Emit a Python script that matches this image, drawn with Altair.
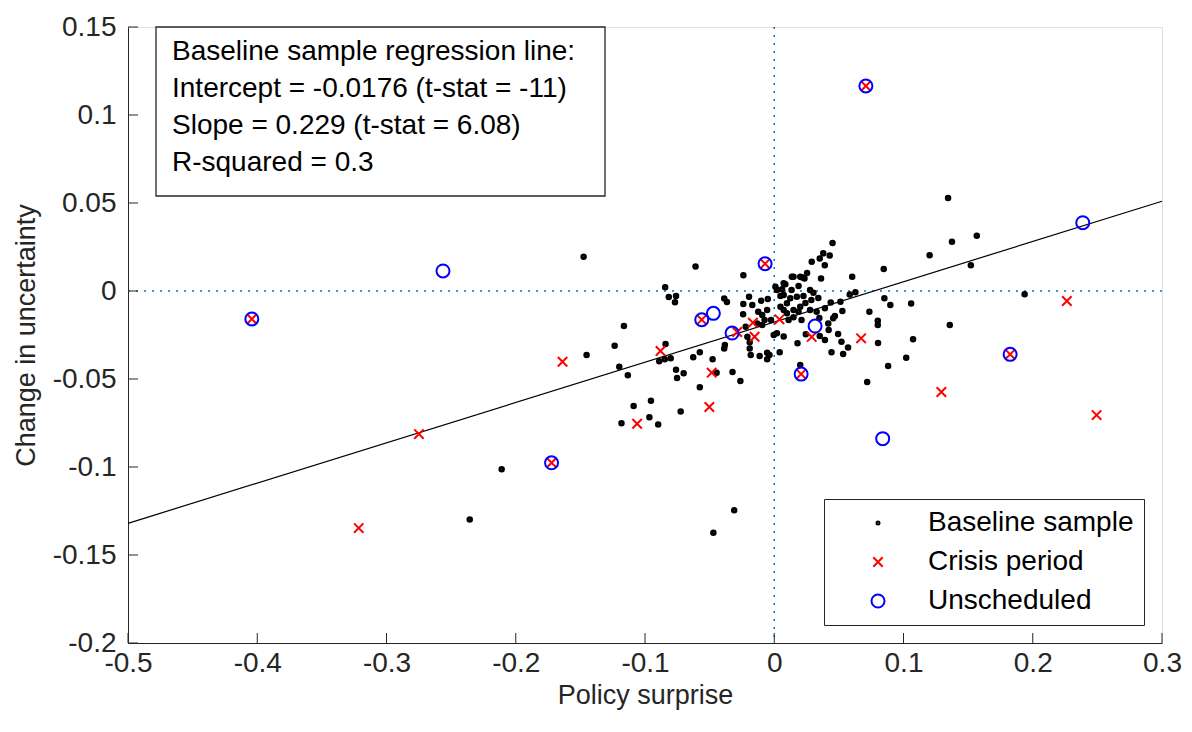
import altair as alt
import pandas as pd

# ---------------- data ----------------
base_x = [-0.0609, -0.0239, -0.0844, -0.0816, -0.0760, -0.0768, -0.0387, -0.0366, -0.0195, -0.0239,
          -0.0170, -0.0101, -0.0050, -0.0124, -0.0055, -0.0093, -0.0075, -0.0025, -0.0241, 0.0009,
          0.0136, -0.0221, -0.0208, -0.0382, -0.0387, -0.0190, -0.0190, -0.0182, -0.0113, -0.0055,
          -0.0037, -0.0055, -0.0004, -0.0132, -0.0093, -0.1163, -0.1235, -0.1199, -0.1133, -0.0841,
          -0.0890, -0.0847, -0.0801, -0.0627, -0.0576, -0.0477, -0.0760, -0.0701, -0.0752, -0.0446,
          -0.0576, -0.0323, -0.0262, -0.0724, -0.0954, -0.1088, -0.0966, -0.0898, -0.1182, -0.1452,
          -0.1475, -0.2356, -0.2109, -0.0310, -0.0471, 0.0719, 0.0881, 0.1021, 0.1074, 0.1358,
          0.1937, 0.1521, 0.1345, 0.1375, 0.1567, 0.1202, 0.0847, 0.0603, 0.0451, 0.0379,
          0.0429, 0.0352, 0.0290, 0.0391, 0.0362, 0.0254, 0.0213, 0.0234, 0.0149, 0.0201,
          0.0073, 0.0021, 0.0086, 0.0060, 0.0188, 0.0277, 0.0303, 0.0341, 0.0226, 0.0073,
          0.0124, 0.0175, 0.0048, 0.0098, 0.0149, 0.0201, 0.0073, 0.0149, 0.0188, 0.0277,
          0.0328, 0.0584, 0.0628, 0.0852, 0.0898, 0.1059, 0.0437, 0.0512, 0.0392, 0.0469,
          0.0456, 0.0527, 0.0736, 0.0801, 0.0801, 0.0803, 0.0418, 0.0421, 0.0392, 0.0494,
          0.0520, 0.0571, 0.0533, 0.0443, 0.0352, 0.0180, 0.0073, 0.0021, 0.0042, 0.0244,
          0.0201, 0.0098, 0.0048, 0.0134, 0.0241, 0.0287, 0.0111, 0.0211, 0.0349]
base_y = [0.0139, 0.0089, 0.0021, -0.0034, -0.0028, -0.0064, -0.0043, -0.0063, -0.0032, -0.0074,
          -0.0080, -0.0055, -0.0045, -0.0118, -0.0108, -0.0136, -0.0165, -0.0165, -0.0132, 0.0024,
          0.0081, -0.0203, -0.0260, -0.0307, -0.0326, -0.0291, -0.0326, -0.0364, -0.0369, -0.0351,
          -0.0364, -0.0388, -0.0250, -0.0184, -0.0193, -0.0199, -0.0311, -0.0430, -0.0479, -0.0301,
          -0.0399, -0.0388, -0.0382, -0.0377, -0.0348, -0.0388, -0.0447, -0.0468, -0.0494, -0.0464,
          -0.0547, -0.0460, -0.0511, -0.0684, -0.0623, -0.0653, -0.0718, -0.0759, -0.0752, -0.0364,
          0.0195, -0.1299, -0.1013, -0.1246, -0.1373, -0.0517, -0.0426, -0.0379, -0.0274, -0.0193,
          -0.0019, 0.0147, 0.0528, 0.0280, 0.0314, 0.0203, 0.0125, 0.0081, 0.0273, 0.0214,
          0.0202, 0.0185, 0.0166, 0.0146, 0.0071, 0.0102, 0.0078, 0.0071, 0.0081, 0.0081,
          0.0044, 0.0006, 0.0038, 0.0010, 0.0028, 0.0006, -0.0010, -0.0040, -0.0028, -0.0023,
          -0.0041, -0.0032, -0.0089, -0.0127, -0.0108, -0.0089, -0.0108, -0.0149, -0.0118, -0.0108,
          -0.0118, -0.0020, -0.0007, -0.0041, -0.0080, -0.0071, -0.0066, -0.0061, -0.0098, -0.0142,
          -0.0155, -0.0114, -0.0118, -0.0169, -0.0193, -0.0295, -0.0184, -0.0222, -0.0278, -0.0244,
          -0.0288, -0.0321, -0.0358, -0.0348, -0.0256, -0.0297, -0.0259, -0.0240, -0.0348, -0.0246,
          -0.0420, -0.0070, -0.0028, 0.0006, -0.0068, -0.0051, -0.0165, -0.0165, -0.0153]

crisis_x = [0.2264, 0.2494, 0.1293, 0.0672, 0.0290, 0.0040, -0.0165, -0.0152, -0.0287, -0.0484,
            -0.0502, -0.0880, -0.1061, -0.1638, -0.2749, -0.3215,
            -0.4042, -0.1723, -0.0561, -0.0071, 0.0709, 0.0208, 0.1825]
crisis_y = [-0.0057, -0.0705, -0.0574, -0.0269, -0.0261, -0.0161, -0.0180, -0.0260, -0.0233, -0.0464,
            -0.0659, -0.0341, -0.0754, -0.0402, -0.0813, -0.1347,
            -0.0159, -0.0976, -0.0163, 0.0155, 0.1165, -0.0472, -0.0360]

unsched_x = [-0.4042, -0.1723, -0.0561, -0.0071, 0.0709, 0.0208, 0.1825,
             -0.2563, -0.0471, -0.0326, 0.0316, 0.0839, 0.2387]
unsched_y = [-0.0159, -0.0976, -0.0163, 0.0155, 0.1165, -0.0472, -0.0360,
             0.0114, -0.0127, -0.0239, -0.0199, -0.0839, 0.0388]

line_x = [-0.5, 0.3]
line_y = [-0.132, 0.051]

series_names = ["Baseline sample", "Crisis period", "Unscheduled"]
x_ticks = [-0.5, -0.4, -0.3, -0.2, -0.1, 0, 0.1, 0.2, 0.3]
y_ticks = [-0.2, -0.15, -0.1, -0.05, 0, 0.05, 0.1, 0.15]
note_lines = ["Baseline sample regression line:",
              "Intercept = -0.0176 (t-stat = -11)",
              "Slope = 0.229 (t-stat = 6.08)",
              "R-squared = 0.3"]

# ---------------- chart ----------------
W, H = 1034, 616
FONT = "Liberation Sans"
AX = "#262626"

df_base = pd.DataFrame({"x": base_x, "y": base_y, "series": series_names[0]})
df_crisis = pd.DataFrame({"x": crisis_x, "y": crisis_y, "series": series_names[1]})
df_uns = pd.DataFrame({"x": unsched_x, "y": unsched_y, "series": series_names[2]})
df_line = pd.DataFrame({"x": line_x, "y": line_y})
df_xt = pd.DataFrame({"t": x_ticks})
df_yt = pd.DataFrame({"t": y_ticks})
df_zero = pd.DataFrame({"z": [0]})

xs = alt.Scale(domain=[-0.5, 0.3], nice=False, zero=False)
ys = alt.Scale(domain=[-0.2, 0.15], nice=False, zero=False)

x_axis = alt.Axis(values=x_ticks, labelExpr="'' + datum.value", ticks=False, grid=False,
                  labelFont=FONT, labelFontSize=28, labelColor=AX, labelPadding=6,
                  domainColor=AX, domainWidth=1, title="Policy surprise", titleFont=FONT,
                  titleFontSize=27, titleFontWeight="normal", titleColor=AX, titlePadding=5,
                  labelFlush=False, labelOverlap=False)
y_axis = alt.Axis(values=y_ticks, labelExpr="'' + datum.value", ticks=False, grid=False,
                  labelFont=FONT, labelFontSize=28, labelColor=AX, labelPadding=12,
                  domainColor=AX, domainWidth=1, title="Change in uncertainty", titleFont=FONT,
                  titleFontSize=27, titleFontWeight="normal", titleColor=AX, titlePadding=12,
                  labelFlush=False, labelOverlap=False)

cs = alt.Scale(domain=series_names, range=["#000000", "#FF0000", "#0000FF"])
ss = alt.Scale(domain=series_names, range=["circle", "M-1,-1L1,1M-1,1L1,-1", "circle"])
zs = alt.Scale(domain=series_names, range=[9, 169, 320])
leg = alt.Legend(title=None, orient="bottom-right", offset=18, labelFont=FONT, labelFontSize=28,
                 labelColor="#000000", strokeColor=AX, fillColor="white", padding=10,
                 symbolStrokeWidth=2, rowPadding=11, labelOffset=36, symbolOffset=30,
                 labelLimit=400, cornerRadius=0)


def pts(df, sw):
    return alt.Chart(df).mark_point(filled=False, strokeWidth=sw, opacity=1).encode(
        x=alt.X("x:Q", scale=xs, axis=x_axis),
        y=alt.Y("y:Q", scale=ys, axis=y_axis),
        color=alt.Color("series:N", scale=cs, legend=leg),
        shape=alt.Shape("series:N", scale=ss, legend=leg),
        size=alt.Size("series:N", scale=zs, legend=leg),
    )


zero_v = alt.Chart(df_zero).mark_rule(color="#0072BD", strokeWidth=1.5, strokeDash=[2, 6]).encode(
    x=alt.X("z:Q", scale=xs))
zero_h = alt.Chart(df_zero).mark_rule(color="#0072BD", strokeWidth=1.5, strokeDash=[2, 6]).encode(
    y=alt.Y("z:Q", scale=ys))
reg = alt.Chart(df_line).mark_line(color="#000000", strokeWidth=1.2).encode(
    x=alt.X("x:Q", scale=xs), y=alt.Y("y:Q", scale=ys))
xt = alt.Chart(df_xt).mark_rule(color=AX, strokeWidth=1).encode(
    x=alt.X("t:Q", scale=xs), y=alt.value(H), y2=alt.value(H - 10))
yt = alt.Chart(df_yt).mark_rule(color=AX, strokeWidth=1).encode(
    y=alt.Y("t:Q", scale=ys), x=alt.value(0), x2=alt.value(10))

box = alt.Chart(df_zero).mark_rect(fill="white", stroke=AX, strokeWidth=1.3).encode(
    x=alt.value(28), x2=alt.value(477), y=alt.value(0), y2=alt.value(169))
note = alt.Chart(df_zero).mark_text(align="left", baseline="top", font=FONT, fontSize=28,
                                    lineHeight=37, color="#000000").encode(
    x=alt.value(44), y=alt.value(11), text=alt.value(note_lines))

chart = alt.layer(
    zero_v, zero_h, reg, xt, yt,
    pts(df_base, 3.5), pts(df_crisis, 2), pts(df_uns, 2),
    box, note,
).properties(
    width=W, height=H,
    autosize=alt.AutoSizeParams(type="none"),
    padding={"left": 120, "top": 19, "right": 22, "bottom": 81},
).configure_view(stroke=None).configure(background="white")

chart.save("out.html", embed_options={"renderer": "svg", "actions": False})
